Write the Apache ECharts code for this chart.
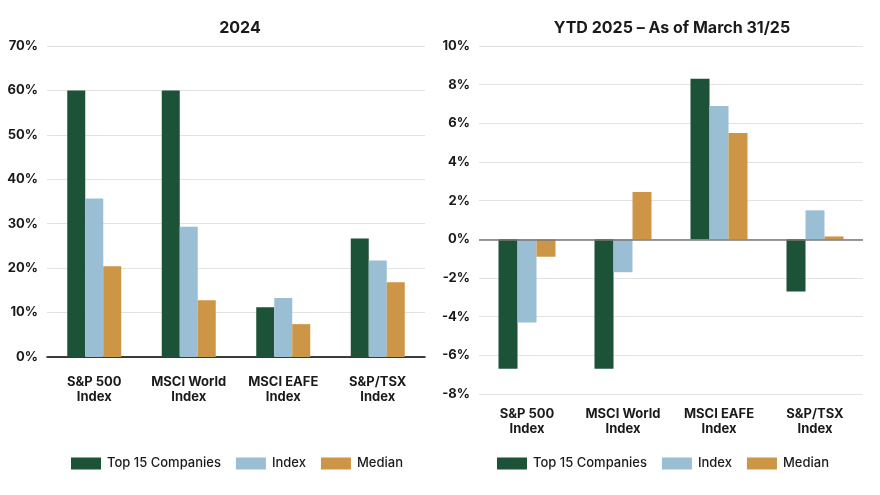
<!DOCTYPE html>
<html>
<head>
<meta charset="utf-8">
<script src="https://cdn.jsdelivr.net/npm/echarts@6/dist/echarts.min.js"></script>
<style>
  html, body { margin: 0; padding: 0; background: #fff; }
  #main { width: 880px; height: 495px; }
</style>
</head>
<body>
<div id="main"></div>
<script>
var categories = ['S&P 500\nIndex', 'MSCI World\nIndex', 'MSCI EAFE\nIndex', 'S&P/TSX\nIndex'];
var seriesNames = ['Top 15 Companies', 'Index', 'Median'];

// 2024 returns (%)
var top15_2024 = [60.0, 60.0, 11.2, 26.7];
var index_2024 = [35.7, 29.3, 13.3, 21.7];
var median_2024 = [20.4, 12.8, 7.4, 16.8];

// YTD 2025 returns (%)
var top15_2025 = [-6.7, -6.7, 8.3, -2.7];
var index_2025 = [-4.3, -1.7, 6.9, 1.5];
var median_2025 = [-0.9, 2.45, 5.5, 0.15];

var colors = ['#1c5237', '#9abfd4', '#cd9546'];
var fontFam = 'Inter, "Noto Sans", sans-serif';
var textColor = '#1a1a1a';

var chart = echarts.init(document.getElementById('main'));

function bar(name, data, idx, extra) {
    var s = {
        name: name,
        type: 'bar',
        xAxisIndex: idx,
        yAxisIndex: idx,
        data: data,
        barGap: '0%',
        itemStyle: { color: colors[seriesNames.indexOf(name)] }
    };
    if (extra) Object.assign(s, extra);
    return s;
}

var legendBase = {
    top: 457, padding: 0, itemWidth: 30, itemHeight: 12, itemGap: 15,
    icon: 'rect',
    data: seriesNames,
    textStyle: { fontSize: 13, fontWeight: 500, color: textColor, fontFamily: fontFam, padding: [0, 0, 0, 1] }
};

var option = {
    animation: false,
    textStyle: { fontFamily: fontFam },
    title: [
        { text: '2024', left: 235, top: 15, textAlign: 'center',
          textStyle: { fontSize: 16, fontWeight: 'bold', color: textColor } },
        { text: 'YTD 2025 \u2013 As of March 31/25', left: 667, top: 15, textAlign: 'center',
          textStyle: { fontSize: 16, fontWeight: 'bold', color: textColor } }
    ],
    legend: [
        Object.assign({}, legendBase, { left: 71 }),
        Object.assign({}, legendBase, { left: 497 })
    ],
    grid: [
        { left: 47, right: 455, top: 46, height: 311 },
        { left: 479, right: 17, top: 46, height: 348 }
    ],
    xAxis: [
        { type: 'category', gridIndex: 0, data: categories,
          axisTick: { show: false },
          axisLine: { lineStyle: { color: '#000', width: 1.5 } },
          axisLabel: { interval: 0, margin: 18, fontSize: 13, fontWeight: 'bold', color: textColor, lineHeight: 15 } },
        { type: 'category', gridIndex: 1, data: categories,
          axisTick: { show: false },
          axisLine: { show: false, onZero: false },
          axisLabel: { interval: 0, margin: 13, fontSize: 13, fontWeight: 'bold', color: textColor, lineHeight: 15 } }
    ],
    yAxis: [
        { type: 'value', gridIndex: 0, min: 0, max: 70, interval: 10,
          axisLabel: { formatter: '{value}%', fontSize: 13, fontWeight: 'bold', color: textColor, margin: 9 },
          splitLine: { lineStyle: { color: '#e2e2e2' } } },
        { type: 'value', gridIndex: 1, min: -8, max: 10, interval: 2,
          axisLabel: { formatter: '{value}%', fontSize: 13, fontWeight: 'bold', color: textColor, margin: 9 },
          splitLine: { lineStyle: { color: '#e2e2e2' } } }
    ],
    series: [
        bar('Top 15 Companies', top15_2024, 0, { barWidth: 18 }),
        bar('Index', index_2024, 0, { barWidth: 18 }),
        bar('Median', median_2024, 0, { barWidth: 18 }),
        bar('Top 15 Companies', top15_2025, 1, { barWidth: 19,
            markLine: { silent: true, symbol: 'none', label: { show: false },
                        lineStyle: { color: '#777', width: 1.5, type: 'solid' },
                        data: [{ yAxis: 0 }] } }),
        bar('Index', index_2025, 1, { barWidth: 19 }),
        bar('Median', median_2025, 1, { barWidth: 19 })
    ]
};

chart.setOption(option);
</script>
</body>
</html>
